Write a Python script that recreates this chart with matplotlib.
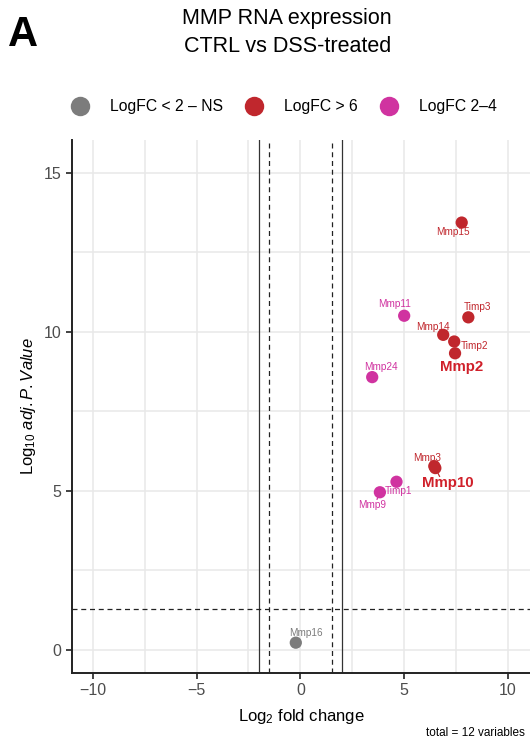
import matplotlib
matplotlib.use("Agg")
import matplotlib.pyplot as plt
from matplotlib.lines import Line2D

plt.rcParams['font.family'] = ['Liberation Sans', 'DejaVu Sans']
plt.rcParams['mathtext.fontset'] = 'custom'
plt.rcParams['mathtext.rm'] = 'Liberation Sans'
plt.rcParams['mathtext.it'] = 'Liberation Sans:italic'
plt.rcParams['mathtext.bf'] = 'Liberation Sans:bold'

# data
genes = ['Mmp15', 'Mmp11', 'Timp3', 'Mmp14', 'Timp2', 'Mmp2',
         'Mmp24', 'Mmp3', 'Mmp10', 'Timp1', 'Mmp9', 'Mmp16']
logfc = [7.77, 5.00, 8.09, 6.88, 7.41, 7.45, 3.46, 6.45, 6.50, 4.63, 3.83, -0.22]
neglogp = [13.44, 10.51, 10.46, 9.91, 9.70, 9.33, 8.58, 5.78, 5.72, 5.29, 4.96, 0.23]
group = ['hi', 'mid', 'hi', 'hi', 'hi', 'hi', 'mid', 'hi', 'hi', 'mid', 'mid', 'ns']

colors = {'ns': '#7c7c7c', 'hi': '#c0272d', 'mid': '#d033a0'}
legend_names = {'ns': 'LogFC < 2 – NS', 'hi': 'LogFC > 6', 'mid': 'LogFC 2–4'}
bold_genes = ['Mmp2', 'Mmp10']

# label offsets (data units)
label_off = {
    'Mmp15': (-0.42, -0.31), 'Mmp11': (-0.45, 0.37), 'Timp3': (0.42, 0.32),
    'Mmp14': (-0.50, 0.25), 'Timp2': (0.99, -0.14), 'Mmp2': (0.34, -0.43),
    'Mmp24': (0.42, 0.32), 'Mmp3': (-0.35, 0.27), 'Mmp10': (0.58, -0.47),
    'Timp1': (0.11, -0.29), 'Mmp9': (-0.39, -0.40), 'Mmp16': (0.48, 0.31),
}

fig = plt.figure(figsize=(5.30, 7.46), dpi=100)
ax = fig.add_axes([0.1358, 0.098, 0.8642, 0.7145])

ax.set_xlim(-11.0, 11.06)
ax.set_ylim(-0.72, 16.04)
ax.set_xticks([-10, -5, 0, 5, 10])
ax.set_yticks([0, 5, 10, 15])
ax.set_xticks([-7.5, -2.5, 2.5, 7.5], minor=True)
ax.set_yticks([2.5, 7.5, 12.5], minor=True)
ax.grid(True, which='both', color='#e8e8e8', lw=1.1, zorder=0)
ax.set_axisbelow(True)
ax.tick_params(which='minor', length=0)
ax.tick_params(which='major', length=4, width=1.2, labelsize=11.5,
               colors='#222222', labelcolor='#4d4d4d')
for s in ['top', 'right']:
    ax.spines[s].set_visible(False)
for s in ['left', 'bottom']:
    ax.spines[s].set_linewidth(1.4)
    ax.spines[s].set_color('#222222')

# cut-off lines
for v in [-2, 2]:
    ax.axvline(v, color='#333333', lw=0.9, zorder=1)
for v in [-1.5, 1.5]:
    ax.axvline(v, color='#222222', lw=0.9, ls=(0, (4, 3)), zorder=1)
ax.axhline(1.3, color='#222222', lw=0.9, ls=(0, (4, 3)), zorder=1)

# points
for g, x, y, grp in zip(genes, logfc, neglogp, group):
    ax.scatter(x, y, s=78, color=colors[grp], zorder=3, edgecolors='none')
    dx, dy = label_off[g]
    if g in bold_genes:
        ax.text(x + dx, y + dy, g, color='#d0202a', fontsize=10.8,
                fontweight='bold', ha='center', va='center', zorder=4)
    else:
        ax.text(x + dx, y + dy, g, color=colors[grp], fontsize=7.2,
                ha='center', va='center', zorder=4)

# short connectors for crowded labels
for g in ['Mmp10', 'Mmp9']:
    i = genes.index(g)
    dx, dy = label_off[g]
    ax.plot([logfc[i], logfc[i] + dx * 0.35], [neglogp[i], neglogp[i] + dy * 0.55],
            color=colors[group[i]], lw=0.9, zorder=2)

ax.set_xlabel(r'Log$_{2}$ fold change', fontsize=12, labelpad=6)
ax.set_ylabel(r'Log$_{10}$ $\mathit{adj.P.Value}$', fontsize=12, labelpad=4)

# title and panel letter
fig.text(0.542, 0.975, 'MMP RNA expression', ha='center', va='center', fontsize=15.5)
fig.text(0.542, 0.938, 'CTRL vs DSS-treated', ha='center', va='center', fontsize=15.5)
fig.text(0.015, 0.953, 'A', ha='left', va='center', fontsize=30, fontweight='bold')

# legend
handles = [Line2D([], [], marker='o', ls='none', markersize=14,
                  markerfacecolor=colors[k], markeredgecolor='none')
           for k in ['ns', 'hi', 'mid']]
fig.legend(handles, [legend_names[k] for k in ['ns', 'hi', 'mid']],
           loc='center', bbox_to_anchor=(0.535, 0.857), ncol=3, frameon=False,
           fontsize=11.3, handletextpad=1.3, columnspacing=1.4,
           handlelength=1.2)

fig.text(0.99, 0.017, 'total = 12 variables', ha='right', va='center', fontsize=8.5)

fig.savefig('out.png', dpi=100)
